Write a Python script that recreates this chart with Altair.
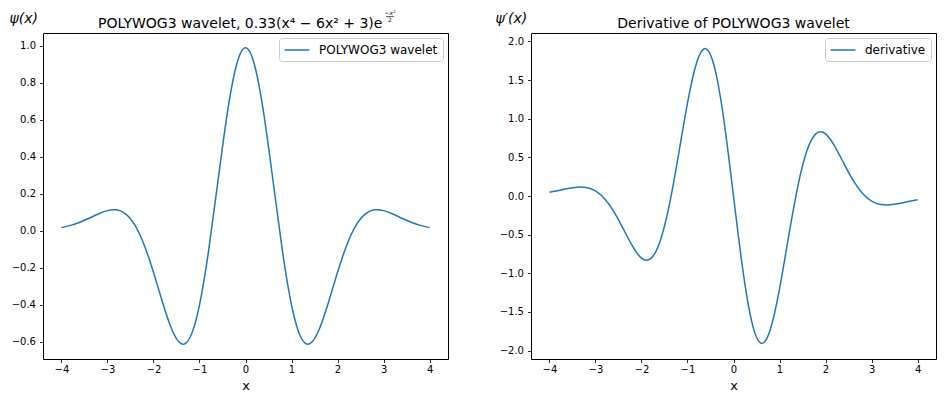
import altair as alt
import pandas as pd

# sample positions along x
x_vals = [-4.0, -3.8, -3.6, -3.4, -3.2, -3.0, -2.8, -2.6, -2.4, -2.2, -2.0,
          -1.8, -1.6, -1.4, -1.2, -1.0, -0.8, -0.6, -0.4, -0.2, 0.0,
          0.2, 0.4, 0.6, 0.8, 1.0, 1.2, 1.4, 1.6, 1.8, 2.0,
          2.2, 2.4, 2.6, 2.8, 3.0, 3.2, 3.4, 3.6, 3.8, 4.0]

# wavelet values
psi_vals = [0.0180, 0.0302, 0.0472, 0.0686, 0.0915, 0.1100, 0.1141, 0.0914, 0.0300, -0.0767, -0.2233,
            -0.3881, -0.5328, -0.6092, -0.5729, -0.4003, -0.1031, 0.2673, 0.6292, 0.8933, 0.9900,
            0.8933, 0.6292, 0.2673, -0.1031, -0.4003, -0.5729, -0.6092, -0.5328, -0.3881, -0.2233,
            -0.0767, 0.0300, 0.0914, 0.1141, 0.1100, 0.0915, 0.0686, 0.0472, 0.0302, 0.0180]

# derivative values
dpsi_vals = [0.0492, 0.0726, 0.0972, 0.1145, 0.1102, 0.0660, -0.0355, -0.2016, -0.4189, -0.6439, -0.8039,
             -0.8114, -0.5940, -0.1315, 0.5153, 1.2009, 1.7272, 1.9068, 1.6359, 0.9446, 0.0,
             -0.9446, -1.6359, -1.9068, -1.7272, -1.2009, -0.5153, 0.1315, 0.5940, 0.8114, 0.8039,
             0.6439, 0.4189, 0.2016, 0.0355, -0.0660, -0.1102, -0.1145, -0.0972, -0.0726, -0.0492]

x_ticks = [-4, -3, -2, -1, 0, 1, 2, 3, 4]
psi_ticks = [-0.6, -0.4, -0.2, 0.0, 0.2, 0.4, 0.6, 0.8, 1.0]
dpsi_ticks = [-2.0, -1.5, -1.0, -0.5, 0.0, 0.5, 1.0, 1.5, 2.0]

left_series = "POLYWOG3 wavelet"
right_series = "derivative"
left_title = "POLYWOG3 wavelet, 0.33(x⁴ − 6x² + 3)e"
exp_num = "−x²"
exp_den = "2"
right_title = "Derivative of POLYWOG3 wavelet"

BLUE = "#1f77b4"
W, H = 405, 326

df_l = pd.DataFrame({"x": x_vals, "y": psi_vals, "s": [left_series] * len(x_vals)})
df_r = pd.DataFrame({"x": x_vals, "y": dpsi_vals, "s": [right_series] * len(x_vals)})

legend = alt.Legend(
    title=None, orient="top-right", offset=5, padding=5,
    strokeColor="#cccccc", fillColor="white", cornerRadius=3,
    symbolType="M-2,0H2", symbolSize=156, symbolStrokeWidth=1.5,
    symbolOffset=6, labelOffset=15, labelFontSize=12, labelColor="black",
    labelFont="DejaVu Sans",
)

x_enc = alt.X("x:Q", scale=alt.Scale(domain=[-4.4, 4.4], nice=False),
              axis=alt.Axis(values=x_ticks, format="d", title="x", titleFontSize=13,
                            titlePadding=5, labelPadding=2, labelOverlap=False))


def panel(df, ticks, domain, ytitle, ytx):
    return alt.Chart(df).mark_line(interpolate="natural", strokeWidth=1.5).encode(
        x=x_enc,
        y=alt.Y("y:Q", scale=alt.Scale(domain=domain, nice=False, zero=False),
                axis=alt.Axis(values=ticks, format=".1f", title=ytitle, titleAngle=0,
                              titleX=ytx, titleY=-11, titleAlign="left",
                              titleBaseline="alphabetic", titleFontSize=14,
                              titleFontStyle="italic", labelPadding=4,
                              labelOverlap=False)),
        color=alt.Color("s:N", scale=alt.Scale(range=[BLUE]), legend=legend),
    )


def text_mark(txt, size, x, y, align="center", baseline="middle", style="normal"):
    return alt.Chart(pd.DataFrame({"t": [txt]})).mark_text(
        fontSize=size, fontStyle=style, align=align, baseline=baseline, color="black",
        font="DejaVu Sans"
    ).encode(x=alt.value(x), y=alt.value(y), text="t:N")


left_line = panel(df_l, psi_ticks, [-0.692, 1.07], "ψ(x)", -34)
right_line = panel(df_r, dpsi_ticks, [-2.11, 2.11], "ψ′(x)", -36)

l_title = text_mark(left_title, 14, 55, -5.5, align="left", baseline="alphabetic")
num = text_mark(exp_num, 6, 347, -20, style="italic")
den = text_mark(exp_den, 6, 347, -13)
bar = alt.Chart(pd.DataFrame({"t": [0]})).mark_rule(color="black", strokeWidth=0.6).encode(
    x=alt.value(343), x2=alt.value(351), y=alt.value(-16.5))
r_title = text_mark(right_title, 14, W / 2, -5.5, baseline="alphabetic")

left = alt.layer(left_line, l_title, num, den, bar).properties(width=W, height=H)
right = alt.layer(right_line, r_title).properties(width=W, height=H)

chart = alt.hconcat(left, right, spacing=45).resolve_scale(color="independent").resolve_legend(
    color="independent").properties(
    padding={"left": 0, "top": 1, "right": 0, "bottom": 0}).configure(
    font="DejaVu Sans").configure_view(
    stroke="black", strokeWidth=1).configure_axis(
    grid=False, domain=False, tickColor="black", tickSize=3.5, tickWidth=0.8,
    labelColor="black", labelFontSize=10, labelFont="DejaVu Sans",
    titleFont="DejaVu Sans", titleFontWeight="normal", titleColor="black")

chart.save("out.html", embed_options={"renderer": "svg", "actions": False})
